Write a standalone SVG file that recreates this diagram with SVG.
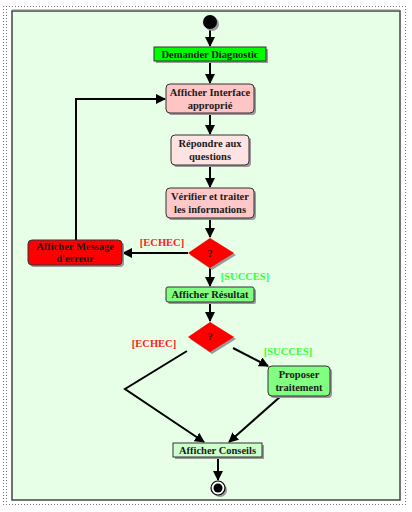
<svg xmlns="http://www.w3.org/2000/svg" width="412" height="512" viewBox="0 0 412 512">
<defs>
<style>
.t{font-family:"Liberation Serif","DejaVu Serif",serif;font-weight:bold;font-size:10.5px;fill:#1a1a1a;text-anchor:middle}
.box{stroke:#333;stroke-width:1}
.sh{fill:#999}
.c{fill:none;stroke:#000;stroke-width:2}
.g{font-family:"Liberation Serif","DejaVu Serif",serif;font-weight:bold;font-size:10.5px}
</style>
<marker id="ah" viewBox="0 0 10 10" refX="9" refY="5" markerWidth="5" markerHeight="5" orient="auto" markerUnits="strokeWidth">
<path d="M0,0 L10,5 L0,10 z" fill="#000"/>
</marker>
<pattern id="dots" width="3" height="3" patternUnits="userSpaceOnUse">
<rect width="3" height="3" fill="#fff"/>
<rect width="1" height="1" fill="#777"/>
</pattern>
</defs>
<rect width="412" height="512" fill="#fff"/>
<g id="frame">
<rect x="2" y="4" width="406" height="502" fill="url(#dots)"/>
<rect x="8" y="8" width="397" height="494" fill="#fff"/>
<rect x="12" y="11" width="388" height="489" fill="#e6ffe6" stroke="#444" stroke-width="1.5"/>
<line x1="12" y1="10" x2="400" y2="10" stroke="#888" stroke-width="1"/>
</g>
<g id="connectors">
<line class="c" x1="210" y1="29" x2="210" y2="46" marker-end="url(#ah)"/>
<line class="c" x1="210" y1="61" x2="210" y2="83" marker-end="url(#ah)"/>
<line class="c" x1="210" y1="113" x2="210" y2="134" marker-end="url(#ah)"/>
<line class="c" x1="210" y1="165" x2="210" y2="187" marker-end="url(#ah)"/>
<line class="c" x1="210" y1="218" x2="210" y2="237" marker-end="url(#ah)"/>
<line class="c" x1="188" y1="253" x2="123" y2="253" marker-end="url(#ah)"/>
<polyline class="c" points="76,240 76,99 165,99" marker-end="url(#ah)"/>
<line class="c" x1="210" y1="268" x2="210" y2="286" marker-end="url(#ah)"/>
<line class="c" x1="210" y1="302" x2="210" y2="321" marker-end="url(#ah)"/>
<polyline class="c" points="187,351 125,389 204,442" marker-end="url(#ah)"/>
<line class="c" x1="233" y1="348" x2="268" y2="366" marker-end="url(#ah)"/>
<line class="c" x1="281" y1="396" x2="229" y2="442" marker-end="url(#ah)"/>
<line class="c" x1="218" y1="457" x2="218" y2="480" marker-end="url(#ah)"/>
<text class="g" x="162" y="246" fill="#ff2020" text-anchor="middle">[ECHEC]</text>
<text class="g" x="245" y="280" fill="#33ff33" text-anchor="middle">[SUCCES]</text>
<text class="g" x="154" y="347" fill="#ff2020" text-anchor="middle">[ECHEC]</text>
<text class="g" x="288" y="355" fill="#33ff33" text-anchor="middle">[SUCCES]</text>
</g>
<g id="start">
<circle cx="212" cy="24" r="7" class="sh"/>
<circle cx="210" cy="22" r="7" fill="#000"/>
</g>
<g id="demander">
<rect x="156" y="49" width="112" height="14" class="sh"/>
<rect x="154" y="47" width="112" height="14" fill="#00ff00" class="box"/>
<text class="t" x="210" y="57.5">Demander Diagnostic</text>
</g>
<g id="interface">
<rect x="168" y="86" width="88" height="29" rx="4" class="sh"/>
<rect x="166" y="84" width="88" height="29" rx="4" fill="#ffc4c4" class="box"/>
<text class="t" x="210" y="95.5">Afficher Interface</text>
<text class="t" x="210" y="108.5">approprié</text>
</g>
<g id="repondre">
<rect x="173" y="137" width="78" height="30" rx="4" class="sh"/>
<rect x="171" y="135" width="78" height="30" rx="4" fill="#ffe2e2" class="box"/>
<text class="t" x="210" y="147">Répondre aux</text>
<text class="t" x="210" y="160">questions</text>
</g>
<g id="verifier">
<rect x="168" y="190" width="88" height="30" rx="4" class="sh"/>
<rect x="166" y="188" width="88" height="30" rx="4" fill="#ffc8c8" class="box"/>
<text class="t" x="210" y="200">Vérifier et traiter</text>
<text class="t" x="210" y="213">les informations</text>
</g>
<g id="decision1">
<polygon points="212,240 236,255 212,270 190,255" class="sh"/>
<polygon points="210,238 234,253 210,268 188,253" fill="#ff0000"/>
<text class="t" x="210" y="257">?</text>
</g>
<g id="erreur">
<rect x="30" y="242" width="94" height="25" rx="4" class="sh"/>
<rect x="28" y="240" width="94" height="25" rx="4" fill="#ff0000" class="box"/>
<text class="t" x="75" y="250">Afficher Message</text>
<text class="t" x="75" y="262">d'erreur</text>
</g>
<g id="resultat">
<rect x="168" y="289" width="88" height="15" rx="2" class="sh"/>
<rect x="166" y="287" width="88" height="15" rx="2" fill="#80ff80" class="box"/>
<text class="t" x="210" y="298">Afficher Résultat</text>
</g>
<g id="decision2">
<polygon points="212,324 236,339 212,354 190,339" class="sh"/>
<polygon points="210,322 234,337 210,352 188,337" fill="#ff0000"/>
<text class="t" x="210" y="340">?</text>
</g>
<g id="proposer">
<rect x="270" y="368" width="62" height="30" rx="4" class="sh"/>
<rect x="268" y="366" width="62" height="30" rx="4" fill="#80ff80" class="box"/>
<text class="t" x="299" y="377.5">Proposer</text>
<text class="t" x="299" y="390.5">traitement</text>
</g>
<g id="conseils">
<rect x="175" y="445" width="89" height="14" class="sh"/>
<rect x="173" y="443" width="89" height="14" fill="#ccffcc" class="box"/>
<text class="t" x="217.5" y="453.5">Afficher Conseils</text>
</g>
<g id="end">
<circle cx="220" cy="490" r="7" class="sh"/>
<circle cx="218" cy="488" r="7" fill="#fff" stroke="#000" stroke-width="1.2"/>
<circle cx="218" cy="488" r="4.5" fill="#000"/>
</g>
</svg>
